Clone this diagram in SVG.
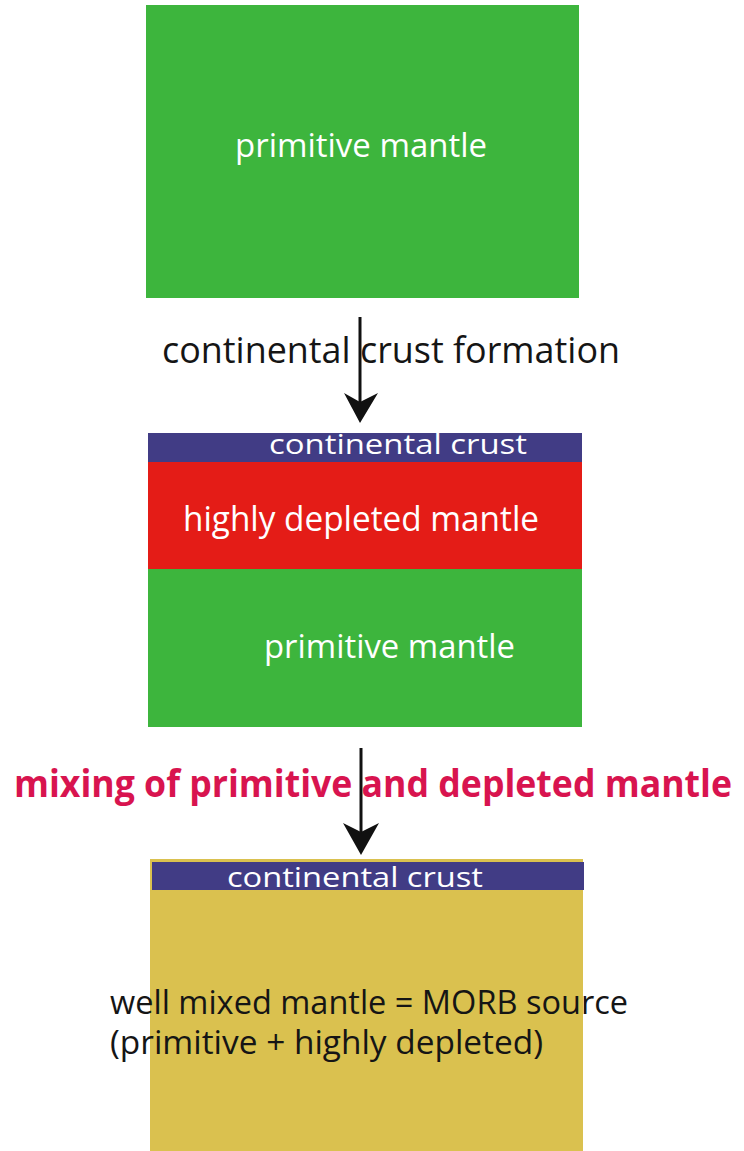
<svg xmlns="http://www.w3.org/2000/svg" width="744" height="1151" viewBox="0 0 744 1151">
  <style>
    text { font-family: "Open Sans", "Noto Sans", "Liberation Sans", sans-serif; }
    .lbl { fill: #ffffff; }
    .dark { fill: #151515; font-weight: 500; }
    .mix { fill: #d8144f; font-weight: bold; }
    .green { fill: #3db53d; }
    .red { fill: #e41c17; }
    .crust { fill: #413c85; }
    .mixed { fill: #dac14f; }
    .shaft { stroke: #111111; stroke-width: 3; fill: none; }
    .head { fill: #111111; }
  </style>

  <!-- stage 1: undifferentiated mantle -->
  <g id="stage1">
    <rect class="green" x="146" y="5" width="433" height="293"/>
    <text class="lbl" x="235" y="157" font-size="32" textLength="252" lengthAdjust="spacingAndGlyphs">primitive mantle</text>
  </g>

  <!-- stage 2: crust extracted, depleted layer above primitive mantle -->
  <g id="stage2">
    <rect class="crust" x="148" y="433" width="434" height="29"/>
    <rect class="red" x="148" y="462" width="434" height="107"/>
    <rect class="green" x="148" y="569" width="434" height="158"/>
    <text class="lbl" x="269" y="454" font-size="28" textLength="258" lengthAdjust="spacingAndGlyphs">continental crust</text>
    <text class="lbl" x="183" y="531" font-size="35" textLength="356" lengthAdjust="spacingAndGlyphs">highly depleted mantle</text>
    <text class="lbl" x="264" y="658" font-size="32" textLength="251" lengthAdjust="spacingAndGlyphs">primitive mantle</text>
  </g>

  <!-- stage 3: homogenised mantle below the crust -->
  <g id="stage3">
    <rect class="mixed" x="150" y="859" width="433" height="292"/>
    <rect class="crust" x="152" y="862" width="432" height="28"/>
    <text class="lbl" x="227" y="887" font-size="28" textLength="256" lengthAdjust="spacingAndGlyphs">continental crust</text>
    <text class="dark" x="110" y="1014" font-size="32" textLength="518" lengthAdjust="spacingAndGlyphs">well mixed mantle = MORB source</text>
    <text class="dark" x="110" y="1054" font-size="32" textLength="433" lengthAdjust="spacingAndGlyphs">(primitive + highly depleted)</text>
  </g>

  <!-- process arrows with their labels -->
  <g id="connectors">
    <line class="shaft" x1="360" y1="317" x2="360" y2="405"/>
    <path class="head" d="M360 423 L344 393 L360 402 L378 393 Z"/>
    <text class="dark" x="162" y="363" font-size="36" textLength="458" lengthAdjust="spacingAndGlyphs">continental crust formation</text>

    <line class="shaft" x1="361" y1="748" x2="361" y2="838"/>
    <path class="head" d="M361 855 L343 823 L361 832 L379 823 Z"/>
    <text class="mix" x="14" y="797" font-size="37" textLength="718" lengthAdjust="spacingAndGlyphs">mixing of primitive and depleted mantle</text>
  </g>
</svg>
